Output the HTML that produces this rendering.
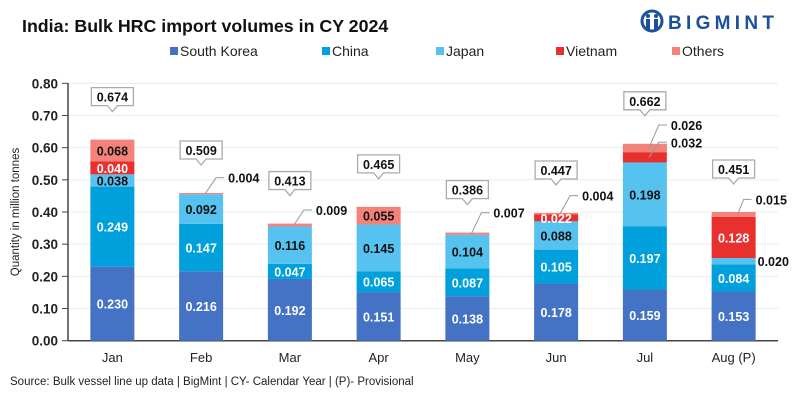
<!DOCTYPE html>
<html><head><meta charset="utf-8"><style>
body{margin:0;background:#fff;font-family:"Liberation Sans",sans-serif;}
#wrap{position:relative;width:800px;height:400px;overflow:hidden;}
</style></head><body>
<div id="wrap">
<svg id="chart" width="800" height="400" xmlns="http://www.w3.org/2000/svg">
<text x="22" y="32" font-size="17.8" font-weight="bold" fill="#111">India: Bulk HRC import volumes in CY 2024</text>
<g>
<circle cx="652" cy="21" r="10" fill="none" stroke="#1c4f9c" stroke-width="3"/>
<circle cx="648" cy="16" r="2" fill="#1c4f9c"/><circle cx="656" cy="16" r="2" fill="#1c4f9c"/>
<rect x="646" y="19" width="4" height="11" fill="#1c4f9c"/><rect x="654" y="19" width="4" height="11" fill="#1c4f9c"/>
<text x="668" y="29" font-size="19" font-weight="bold" fill="#1c4f9c" letter-spacing="4.3">BIGMINT</text>
</g>
<g id="legend"></g>
<g id="grid"></g>
<g id="bars"></g>
<g id="labels"></g>
<text transform="translate(19,212) rotate(-90)" text-anchor="middle" font-size="11.5" fill="#222">Quantity in million tonnes</text>
<text x="10" y="385" font-size="11.5" fill="#222">Source: Bulk vessel line up data | BigMint | CY- Calendar Year | (P)- Provisional</text>
</svg>
</div>
<script>
const categories=["Jan","Feb","Mar","Apr","May","Jun","Jul","Aug (P)"];
const seriesNames=["South Korea","China","Japan","Vietnam","Others"];
const southKorea=[0.230,0.216,0.192,0.151,0.138,0.178,0.159,0.153];
const china=[0.249,0.147,0.047,0.065,0.087,0.105,0.197,0.084];
const japan=[0.038,0.092,0.116,0.145,0.104,0.088,0.198,0.020];
const vietnam=[0.040,0,0,0,0,0.022,0.032,0.128];
const others=[0.068,0.004,0.009,0.055,0.007,0.004,0.026,0.015];
const totals=["0.674","0.509","0.413","0.465","0.386","0.447","0.662","0.451"];
const yTicks=[0,0.1,0.2,0.3,0.4,0.5,0.6,0.7,0.8];
const colors=["#4472C4","#00A0DC","#56C2F0","#E8302F","#F4827A"];
const textColors=["#fff","#fff","#111","#fff","#111"];
const series=[southKorea,china,japan,vietnam,others];
const NS="http://www.w3.org/2000/svg";
const L=68,R=778,T=83.3,B=340.7,yMax=0.8;
const band=(R-L)/categories.length,bw=44;
const y=v=>B-(v/yMax)*(B-T);
const xc=i=>L+band*(i+0.5);
function mk(tag,attrs,parent,txt){const e=document.createElementNS(NS,tag);for(const k in attrs)e.setAttribute(k,attrs[k]);if(txt!==undefined)e.textContent=txt;parent.appendChild(e);return e;}
const grid=document.getElementById('grid'),bars=document.getElementById('bars'),labels=document.getElementById('labels'),legend=document.getElementById('legend');
const lx=[170,322,436,556,672];
seriesNames.forEach((n,k)=>{
 const g=mk('g',{},legend);
 
 
 mk('rect',{x:lx[k],y:47,width:8,height:8,fill:colors[k]},g);
 mk('text',{x:lx[k]+10,y:56,'font-size':14,fill:'#222'},g,n);
});
yTicks.forEach(t=>{
 const l=mk('line',{x1:L,x2:R,y1:y(t),y2:y(t),stroke:'#ececec','stroke-width':1},grid);
 
 
 mk('line',{x1:L-6,x2:L,y1:y(t),y2:y(t),stroke:'#444'},grid);
 const tx=mk('text',{x:L-10,y:y(t)+5,'text-anchor':'end','font-size':13.5,'font-weight':'bold',fill:'#222'},grid,t.toFixed(2));
 
 
});
mk('line',{x1:L,x2:L,y1:T,y2:B,stroke:'#444','stroke-width':1.5},grid);
mk('line',{x1:L,x2:R,y1:B,y2:B,stroke:'#444','stroke-width':1.5},grid);
// leader labels: [category, series, dx, dy relative to segment]
const leaders=[[1,4,27,-16],[2,4,26,-15],[4,4,26,-21],[5,4,26,-18],[6,4,26,-23],[6,3,26,-15],[7,4,22,-15],[7,2,24,0]];
const leaderSet={};leaders.forEach(l=>leaderSet[l[0]+'_'+l[1]]=l);
categories.forEach((c,i)=>{
 let acc=0;
 series.forEach((s,k)=>{
  const v=s[i];if(!v)return;
  const y0=y(acc),y1=y(acc+v);acc+=v;
  const r=mk('rect',{x:xc(i)-bw/2,y:y1,width:bw,height:y0-y1,fill:colors[k]},bars);
  
  
  const key=i+'_'+k;
  if(leaderSet[key]){
   const ld=leaderSet[key];const my=(y0+y1)/2;const tx=xc(i)+ld[2];const ty=my+ld[3];
   if(ld[3]===0){
    mk('line',{x1:xc(i)+bw/2-4,y1:my,x2:tx-3,y2:ty,stroke:'#999','stroke-width':1},labels);
   } else {
    mk('polyline',{points:`${xc(i)+4},${my} ${tx-12},${ty} ${tx-4},${ty}`,fill:'none',stroke:'#999','stroke-width':1},labels);
   }
   const t=mk('text',{x:tx,y:ty+5,'font-size':12.5,'font-weight':'bold',fill:'#111'},labels,v.toFixed(3));
   
   
  } else {
   const t=mk('text',{x:xc(i),y:(y0+y1)/2+5,'text-anchor':'middle','font-size':12.5,'font-weight':'bold',fill:textColors[k]},labels,v.toFixed(3));
   
   
  }
 });
 const top=y(acc);
 const bx=xc(i)-21,by=top-52;
 const g=mk('g',{},labels);
 
 
 mk('path',{d:`M${bx} ${by} h42 v18 h-16 l-5 6 l-5 -6 h-16 Z`,fill:'#fff',stroke:'#aaa','stroke-width':1.3},g);
 mk('text',{x:xc(i),y:by+14,'text-anchor':'middle','font-size':12.5,'font-weight':'bold',fill:'#111'},g,totals[i]);
 const xt=mk('text',{x:xc(i),y:362,'text-anchor':'middle','font-size':13,fill:'#222'},labels,c);
 
 
});
</script>
</body></html>
